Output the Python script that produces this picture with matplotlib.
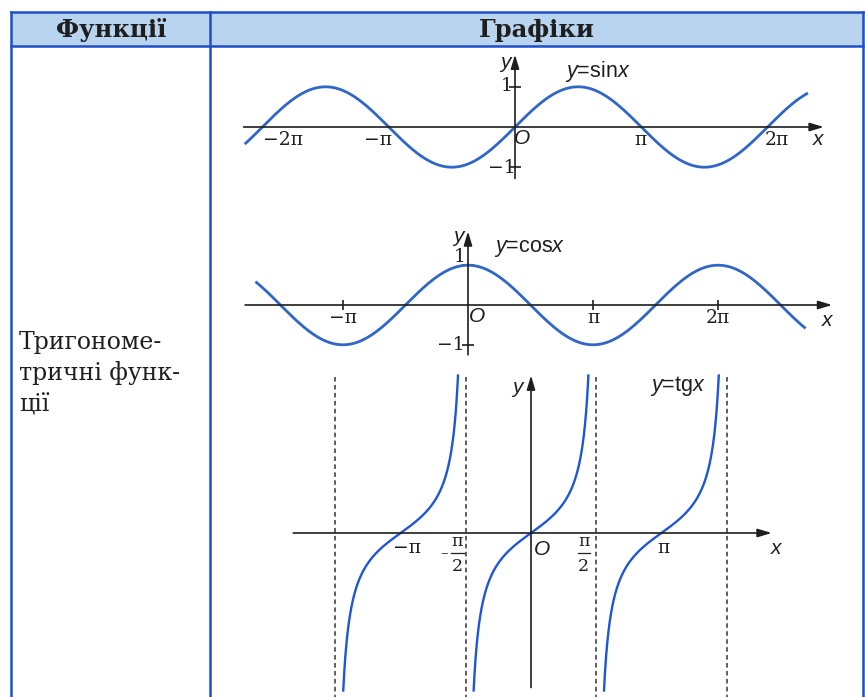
import numpy as np
import matplotlib
matplotlib.use("Agg")
import matplotlib.pyplot as plt

plt.rcParams['mathtext.fontset'] = 'custom'
plt.rcParams['mathtext.rm'] = 'Liberation Sans'
plt.rcParams['mathtext.it'] = 'Liberation Sans:italic'

PI = np.pi
W, H = 865, 697

# table text
header_left = "Функції"
header_right = "Графіки"
row_label = ["Тригономе-", "тричні функ-", "ції"]

# sin panel: curve range, x ticks (value, label, label offset)
sin_x_range = (-2.14 * PI, 2.32 * PI)
sin_ticks = [(-2 * PI, "−2π", 0.5), (-PI, "−π", -0.27), (PI, "π", -0.02), (2 * PI, "2π", 0.22)]
sin_label = r"$y$=sin$x$"

# cos panel
cos_x_range = (-1.70 * PI, 2.70 * PI)
cos_ticks = [(-PI, "−π", 0.0), (PI, "π", 0.0), (2 * PI, "2π", 0.0)]
cos_label = r"$y$=cos$x$"

# tan panel
tan_centers = [-PI, 0, PI]
tan_ymax = 5.25
asymptotes = [-1.5 * PI, -0.5 * PI, 0.5 * PI, 1.5 * PI]
tan_label = r"$y$=tg$x$"

BLUE = '#2f66c8'
TBLUE = '#1f55d8'
BORDER = '#1f4fc8'
INK = '#1e1e1e'

fig = plt.figure(figsize=(W / 100, H / 100), dpi=100)
fig.patch.set_facecolor('white')

# frame axes in pixel units for the table
fr = fig.add_axes([0, 0, 1, 1])
fr.set_xlim(0, W)
fr.set_ylim(H, 0)
fr.axis('off')
fr.add_patch(plt.Rectangle((10.5, 12), 852.5, 34, facecolor='#b8d4ee', edgecolor='none'))
fr.plot([10.5, 863], [12, 12], color=BORDER, lw=1.8)
fr.plot([10.5, 863], [46, 46], color=BORDER, lw=1.8)
fr.plot([10.5, 10.5], [12, H], color=BORDER, lw=1.8)
fr.plot([863, 863], [12, H], color=BORDER, lw=1.8)
fr.plot([209.5, 209.5], [12, H], color=BORDER, lw=1.8)
fr.text(111, 30, header_left, family='DejaVu Serif', weight='bold', fontsize=17.5,
        ha='center', va='center', color=INK)
fr.text(537, 30, header_right, family='DejaVu Serif', weight='bold', fontsize=17.5,
        ha='center', va='center', color=INK)
for i, s in enumerate(row_label):
    fr.text(19, 342 + 31.5 * i, s, family='DejaVu Serif', fontsize=17,
            ha='left', va='center', color=INK)


def panel(left, top, right, bottom, ox, oy, sx, sy):
    ax = fig.add_axes([left / W, 1 - bottom / H, (right - left) / W, (bottom - top) / H])
    ax.set_xlim((left - ox) / sx, (right - ox) / sx)
    ax.set_ylim((oy - bottom) / sy, (oy - top) / sy)
    ax.axis('off')
    return ax


def arrow(ax, p0, p1):
    ax.annotate('', xy=p1, xytext=p0,
                arrowprops=dict(arrowstyle='-|>,head_length=0.6,head_width=0.18',
                                color=INK, lw=1.2, shrinkA=0, shrinkB=0,
                                mutation_scale=14))


def axis_letters(ax, xpos, ypos, opos):
    ax.text(*xpos, 'x', family='Liberation Sans', style='italic', fontsize=15,
            ha='center', va='center', color=INK)
    ax.text(*ypos, 'y', family='Liberation Sans', style='italic', fontsize=15,
            ha='center', va='center', color=INK)
    ax.text(*opos, 'O', family='Liberation Sans', style='italic', fontsize=15,
            ha='center', va='center', color=INK)


serif = dict(family='DejaVu Serif', fontsize=13.5, color=INK, ha='center', va='center')

# ---- sin ----
ax = panel(235, 50, 850, 190, 515, 127, 40.2, 40.2)
x = np.linspace(*sin_x_range, 600)
ax.plot(x, np.sin(x), color=BLUE, lw=2.0, solid_capstyle='butt', zorder=3)
arrow(ax, (-6.75, 0), (7.68, 0))
arrow(ax, (0, -1.28), (0, 1.8))
ax.plot([0, 0], [1, -1], ls='none', marker='_', ms=8, mew=1.2, color=INK)
for v, s, off in sin_ticks:
    ax.text(v + off, -0.32, s, **serif)
ax.text(-0.2, 1.03, '1', **serif)
ax.text(-0.32, -1.03, '−1', **serif)
axis_letters(ax, (7.55, -0.32), (-0.25, 1.6), (0.18, -0.28))
ax.text(2.05, 1.37, sin_label, family='Liberation Sans', fontsize=15.5, ha='center',
        va='center', color=INK)

# ---- cos ----
ax = panel(235, 222, 850, 365, 468, 305, 39.8, 39.8)
x = np.linspace(*cos_x_range, 600)
ax.plot(x, np.cos(x), color=BLUE, lw=2.0, solid_capstyle='butt', zorder=3)
arrow(ax, (-5.6, 0), (9.15, 0))
arrow(ax, (0, -1.25), (0, 1.85))
ax.plot([v for v, _, _ in cos_ticks], [0] * len(cos_ticks), ls='none', marker='|',
        ms=7, mew=1.2, color=INK)
ax.plot([0, 0], [1, -1], ls='none', marker='_', ms=8, mew=1.2, color=INK)
for v, s, off in cos_ticks:
    ax.text(v + off, -0.32, s, **serif)
ax.text(-0.2, 1.2, '1', **serif)
ax.text(-0.42, -1.0, '−1', **serif)
axis_letters(ax, (9.02, -0.38), (-0.25, 1.73), (0.23, -0.3))
ax.text(1.55, 1.42, cos_label, family='Liberation Sans', fontsize=15.5, ha='center',
        va='center', color=INK)

# ---- tg ----
sx, sy = 41.5, 30.0
ax = panel(280, 365, 800, 697, 531, 533, sx, sy)
for c in tan_centers:
    lim = np.arctan(tan_ymax)
    x = np.linspace(c - lim, c + lim, 500)
    ax.plot(x, np.tan(x), color=TBLUE, lw=1.7, zorder=3)
for a in asymptotes:
    ax.plot([a, a], [5.2, -5.5], color='#333333', lw=1.1, ls=(0, (3, 2.2)))
arrow(ax, (-5.73, 0), (5.8, 0))
arrow(ax, (0, -5.15), (0, 5.25))
ax.text(-PI + 0.15, -0.5, '−π', **serif)
# fractions pi/2 drawn as numerator, bar and denominator
for c, neg in [(-0.5 * PI - 0.2, True), (0.5 * PI - 0.3, False)]:
    ax.text(c, -0.3, 'π', family='DejaVu Serif', fontsize=12.5, color=INK,
            ha='center', va='center')
    ax.plot([c - 0.15, c + 0.15], [-0.67, -0.67], color=INK, lw=0.9)
    ax.text(c, -1.13, '2', family='DejaVu Serif', fontsize=12.5, color=INK,
            ha='center', va='center')
    if neg:
        ax.text(c - 0.33, -0.67, '–', family='DejaVu Serif', fontsize=11,
                color=INK, ha='center', va='center')
ax.text(PI + 0.05, -0.5, 'π', **serif)
axis_letters(ax, (5.9, -0.52), (-0.33, 4.85), (0.27, -0.55))
ax.text(3.55, 4.9, tan_label, family='Liberation Sans', fontsize=15.5, ha='center',
        va='center', color=INK)

fig.savefig('out.png', dpi=100, facecolor='white')
